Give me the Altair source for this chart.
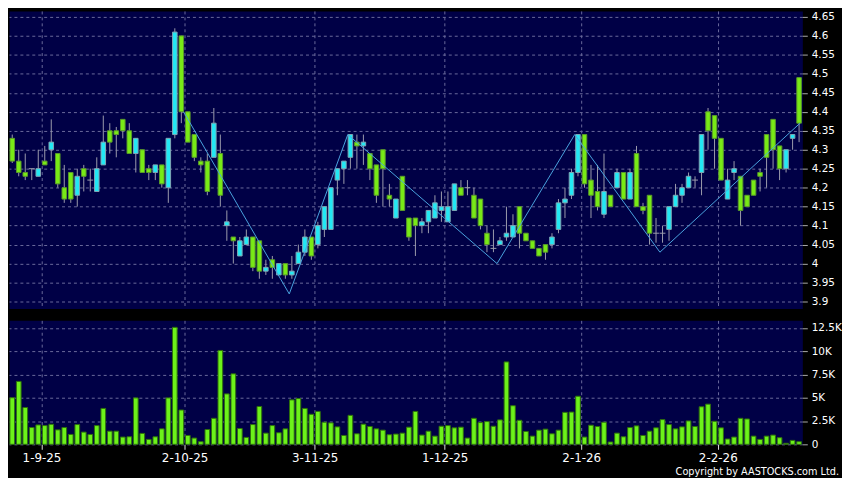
import altair as alt
import pandas as pd

# ---------------- data ----------------
opens = [4.33, 4.27, 4.24, 4.25, 4.23, 4.27, 4.30, 4.29, 4.20, 4.24,
         4.18, 4.25, 4.22, 4.19, 4.26, 4.35, 4.35, 4.38, 4.35, 4.29,
         4.30, 4.25, 4.24, 4.26, 4.20, 4.34, 4.60, 4.40, 4.34, 4.27,
         4.27, 4.28, 4.29, 4.10, 4.07, 4.02, 4.05, 4.07, 4.06, 3.98,
         4.01, 3.97, 4.00, 3.97, 4.00, 4.03, 4.07, 4.05, 4.09, 4.09,
         4.22, 4.25, 4.28, 4.32, 4.31, 4.29, 4.26, 4.30, 4.18, 4.12,
         4.23, 4.12, 4.12, 4.10, 4.11, 4.12, 4.14, 4.11, 4.14, 4.20,
         4.20, 4.18, 4.17, 4.08, 4.04, 4.05, 4.07, 4.07, 4.15, 4.08,
         4.06, 4.04, 4.05, 4.05, 4.09, 4.16, 4.18, 4.24, 4.34, 4.22,
         4.19, 4.13, 4.18, 4.20, 4.24, 4.17, 4.29, 4.15, 4.18, 4.08,
         4.08, 4.09, 4.15, 4.18, 4.20, 4.22, 4.24, 4.40, 4.39, 4.33,
         4.17, 4.24, 4.23, 4.18, 4.22, 4.24, 4.34, 4.38, 4.31, 4.25,
         4.33, 4.49]

closes = [4.27, 4.24, 4.23, 4.25, 4.25, 4.26, 4.32, 4.21, 4.17, 4.17,
          4.23, 4.23, 4.22, 4.25, 4.32, 4.32, 4.34, 4.35, 4.29, 4.33,
          4.24, 4.24, 4.26, 4.21, 4.33, 4.61, 4.40, 4.32, 4.28, 4.26,
          4.19, 4.37, 4.18, 4.11, 4.06, 4.06, 4.07, 3.99, 3.98, 3.99,
          3.99, 4.00, 3.97, 3.98, 4.03, 4.07, 4.02, 4.10, 4.15, 4.20,
          4.25, 4.27, 4.34, 4.31, 4.32, 4.25, 4.18, 4.25, 4.17, 4.17,
          4.14, 4.07, 4.10, 4.11, 4.14, 4.16, 4.15, 4.15, 4.21, 4.18,
          4.20, 4.12, 4.10, 4.05, 4.04, 4.06, 4.08, 4.10, 4.08, 4.06,
          4.04, 4.02, 4.03, 4.07, 4.16, 4.17, 4.24, 4.34, 4.21, 4.18,
          4.15, 4.19, 4.15, 4.24, 4.17, 4.24, 4.15, 4.14, 4.08, 4.08,
          4.08, 4.15, 4.18, 4.20, 4.23, 4.22, 4.34, 4.35, 4.33, 4.22,
          4.22, 4.25, 4.14, 4.15, 4.18, 4.23, 4.28, 4.30, 4.25, 4.30,
          4.34, 4.37]

highs = [4.34, 4.30, 4.29, 4.25, 4.30, 4.31, 4.38, 4.29, 4.26, 4.24,
         4.25, 4.26, 4.25, 4.28, 4.39, 4.37, 4.36, 4.38, 4.37, 4.33,
         4.30, 4.26, 4.26, 4.26, 4.33, 4.62, 4.60, 4.40, 4.34, 4.28,
         4.29, 4.41, 4.34, 4.14, 4.07, 4.07, 4.09, 4.07, 4.06, 4.01,
         4.02, 4.00, 4.00, 4.02, 4.05, 4.09, 4.07, 4.11, 4.15, 4.20,
         4.25, 4.27, 4.34, 4.34, 4.34, 4.29, 4.26, 4.30, 4.21, 4.17,
         4.23, 4.12, 4.12, 4.12, 4.14, 4.18, 4.19, 4.19, 4.21, 4.22,
         4.22, 4.20, 4.17, 4.10, 4.09, 4.07, 4.15, 4.13, 4.15, 4.08,
         4.06, 4.04, 4.05, 4.08, 4.17, 4.20, 4.25, 4.34, 4.34, 4.26,
         4.26, 4.29, 4.18, 4.25, 4.24, 4.25, 4.31, 4.16, 4.18, 4.12,
         4.10, 4.15, 4.21, 4.21, 4.24, 4.23, 4.34, 4.41, 4.39, 4.33,
         4.25, 4.27, 4.23, 4.18, 4.22, 4.25, 4.34, 4.38, 4.31, 4.30,
         4.34, 4.49]

lows = [4.265, 4.23, 4.22, 4.22, 4.23, 4.26, 4.27, 4.20, 4.16, 4.16,
        4.15, 4.19, 4.19, 4.19, 4.26, 4.29, 4.28, 4.33, 4.29, 4.24,
        4.24, 4.22, 4.22, 4.20, 4.16, 4.33, 4.37, 4.32, 4.27, 4.24,
        4.18, 4.28, 4.15, 4.06, 4.00, 4.02, 4.05, 3.98, 3.96, 3.97,
        3.96, 3.97, 3.96, 3.96, 4.00, 4.02, 4.01, 4.04, 4.07, 4.09,
        4.18, 4.21, 4.25, 4.25, 4.26, 4.22, 4.16, 4.15, 4.15, 4.12,
        4.14, 4.06, 4.02, 4.08, 4.08, 4.12, 4.11, 4.11, 4.14, 4.18,
        4.18, 4.12, 4.09, 4.03, 4.03, 4.05, 4.06, 4.07, 4.04, 4.06,
        4.04, 4.02, 4.01, 4.04, 4.08, 4.12, 4.17, 4.23, 4.20, 4.12,
        4.14, 4.12, 4.15, 4.20, 4.17, 4.17, 4.15, 4.13, 4.05, 4.055,
        4.055, 4.06, 4.15, 4.16, 4.20, 4.20, 4.18, 4.30, 4.25, 4.22,
        4.17, 4.22, 4.10, 4.15, 4.18, 4.19, 4.20, 4.25, 4.22, 4.24,
        4.30, 4.32]

volumes = [5000, 6750, 3950, 1800, 2080, 2010, 2150, 1550, 1800, 1060,
           2120, 1310, 1060, 2010, 3850, 1410, 1410, 780, 810, 4980,
           1170, 530, 810, 1660, 4980, 12550, 3680, 950, 670, 280,
           1590, 2790, 10070, 5410, 7560, 1700, 740, 2120, 4060, 1200,
           2010, 1240, 1660, 4770, 4910, 3850, 3220, 3530, 2370, 2300,
           1870, 950, 3110, 1130, 2160, 1910, 1660, 1520, 1030, 1100,
           1200, 1840, 3530, 990, 1410, 880, 1940, 2010, 1770, 1840,
           670, 2790, 2330, 2440, 1940, 2620, 8840, 4140, 2580, 1380,
           880, 1520, 1630, 1130, 1520, 3430, 3460, 5160, 780, 2050,
           1910, 2370, 250, 1200, 810, 1800, 1980, 950, 1410, 1770,
           2650, 2120, 1660, 1870, 2510, 1910, 4030, 4310, 2470, 1770,
           570, 780, 2790, 2720, 880, 530, 880, 990, 710, 110,
           420, 280]

# zigzag indicator vertices (bar index, price)
zz_idx = [26.35, 42.6, 51.6, 74.55, 86.5, 99.6, 121.15]
zz_val = [4.40, 3.92, 4.34, 4.00, 4.34, 4.03, 4.37]

# date markers (bar index position) and their labels
date_pos = [4.5, 26.5, 46.5, 66.5, 87.5, 108.5]
date_labels = ["1-9-25", "2-10-25", "3-11-25", "1-12-25", "2-1-26", "2-2-26"]

price_ticks = [3.9, 3.95, 4.0, 4.05, 4.1, 4.15, 4.2, 4.25, 4.3, 4.35,
               4.4, 4.45, 4.5, 4.55, 4.6, 4.65]
vol_ticks = [0, 2500, 5000, 7500, 10000, 12500]

copyright_text = "Copyright by AASTOCKS.com Ltd."

# ---------------- styling ----------------
FONT = "DejaVu Sans"
NAVY = "#000046"
GRID = "#6a6a9c"
UP_FILL = "#22e8f4"
UP_STROKE = "#7fa6b4"
DN_FILL = "#78ea16"
DN_STROKE = "#5a9a2a"
WICK = "#9c9cac"
VOL_FILL = "#6cf21a"
VOL_STROKE = "#2f700c"
ZZ = "#4aa3df"

n = len(opens)
df = pd.DataFrame({
    "i": list(range(n)),
    "open": opens, "high": highs, "low": lows, "close": closes,
    "vol": volumes,
})
df["kind"] = ["up" if c > o else ("down" if c < o else "doji")
              for o, c in zip(opens, closes)]
zz_df = pd.DataFrame({"i": zz_idx, "v": zz_val})

xscale = alt.Scale(domain=[-0.5, n - 0.5], nice=False, zero=False)
yscale = alt.Scale(domain=[3.8817, 4.6657], nice=False, zero=False)
vscale = alt.Scale(domain=[0, 13300], nice=False, zero=True)

label_expr = "''"
for p, l in reversed(list(zip(date_pos, date_labels))):
    label_expr = f"datum.value == {p} ? '{l}' : {label_expr}"

x_axis_price = alt.Axis(values=date_pos, labels=False, ticks=False, domain=False,
                        grid=True, gridColor=GRID, gridDash=[3, 3], gridWidth=1,
                        title=None)
x_axis_vol = alt.Axis(values=date_pos, labelExpr=label_expr, domain=False,
                      grid=True, gridColor=GRID, gridDash=[3, 3], gridWidth=1,
                      ticks=True, tickColor="#dddddd", tickSize=5,
                      labelColor="#ffffff", labelFont=FONT, labelFontSize=12,
                      labelPadding=3, labelFlush=False, labelOverlap=False,
                      title=None)
y_axis_price = alt.Axis(orient="right", values=price_ticks,
                        labelExpr="format(datum.value, '~g')",
                        grid=True, gridColor=GRID, gridDash=[3, 3], gridWidth=1,
                        domain=False, ticks=True, tickColor="#aaaaaa", tickSize=5,
                        labelColor="#ffffff", labelFont=FONT, labelFontSize=10.5,
                        labelPadding=4, labelFlush=False, labelOverlap=False,
                        title=None)
y_axis_vol = alt.Axis(orient="right", values=vol_ticks,
                      labelExpr="datum.value == 0 ? '0' : format(datum.value / 1000, '~g') + 'K'",
                      grid=True, gridColor=GRID, gridDash=[3, 3], gridWidth=1,
                      domain=False, ticks=True, tickColor="#aaaaaa", tickSize=5,
                      labelColor="#ffffff", labelFont=FONT, labelFontSize=10.5,
                      labelPadding=4, labelFlush=False, labelOverlap=False,
                      title=None)


def px(field="i"):
    return alt.X(f"{field}:Q", scale=xscale, axis=x_axis_price)


def py(field):
    return alt.Y(f"{field}:Q", scale=yscale, axis=y_axis_price)


base = alt.Chart(df).transform_calculate(
    xl="datum.i - 0.35", xr="datum.i + 0.35",
    dl="datum.i - 0.45", dr="datum.i + 0.45",
)

wicks = base.mark_rule(color=WICK, strokeWidth=1).encode(
    x=px(), y=py("low"), y2="high:Q"
)

bodies = base.transform_filter("datum.kind != 'doji'").mark_rect(strokeWidth=1).encode(
    x=px("xl"), x2="xr:Q",
    y=py("open"), y2="close:Q",
    fill=alt.Fill("kind:N", scale=alt.Scale(domain=["up", "down"], range=[UP_FILL, DN_FILL]), legend=None),
    stroke=alt.Stroke("kind:N", scale=alt.Scale(domain=["up", "down"], range=[UP_STROKE, DN_STROKE]), legend=None),
)

dojis = base.transform_filter("datum.kind == 'doji'").mark_rule(color=WICK, strokeWidth=1).encode(
    x=px("dl"), x2="dr:Q", y=py("open")
)

zigzag = alt.Chart(zz_df).mark_line(color=ZZ, strokeWidth=1).encode(
    x=px(), y=py("v"), order="i:Q"
)

price = alt.layer(wicks, bodies, dojis, zigzag).resolve_scale(
    fill="independent", stroke="independent"
).properties(width=800, height=300)

vol_bars = alt.Chart(df).transform_calculate(
    xl="datum.i - 0.36", xr="datum.i + 0.36"
).mark_rect(fill=VOL_FILL, stroke=VOL_STROKE, strokeWidth=1).encode(
    x=alt.X("xl:Q", scale=xscale, axis=x_axis_vol), x2="xr:Q",
    y=alt.Y("vol:Q", scale=vscale, axis=y_axis_vol), y2=alt.datum(0),
)

copyright_mark = alt.Chart(pd.DataFrame({"t": [copyright_text]})).mark_text(
    align="right", baseline="middle", font=FONT, fontSize=9.8, color="#ffffff"
).encode(x=alt.value(837), y=alt.value(153), text="t:N")

volume = alt.layer(vol_bars, copyright_mark).properties(width=800, height=125)

chart = alt.vconcat(price, volume, spacing=10).properties(
    padding=0
).configure(background="#000000").configure_view(fill=NAVY, stroke="transparent")

chart.save("out.html", embed_options={"renderer": "svg", "actions": False})
